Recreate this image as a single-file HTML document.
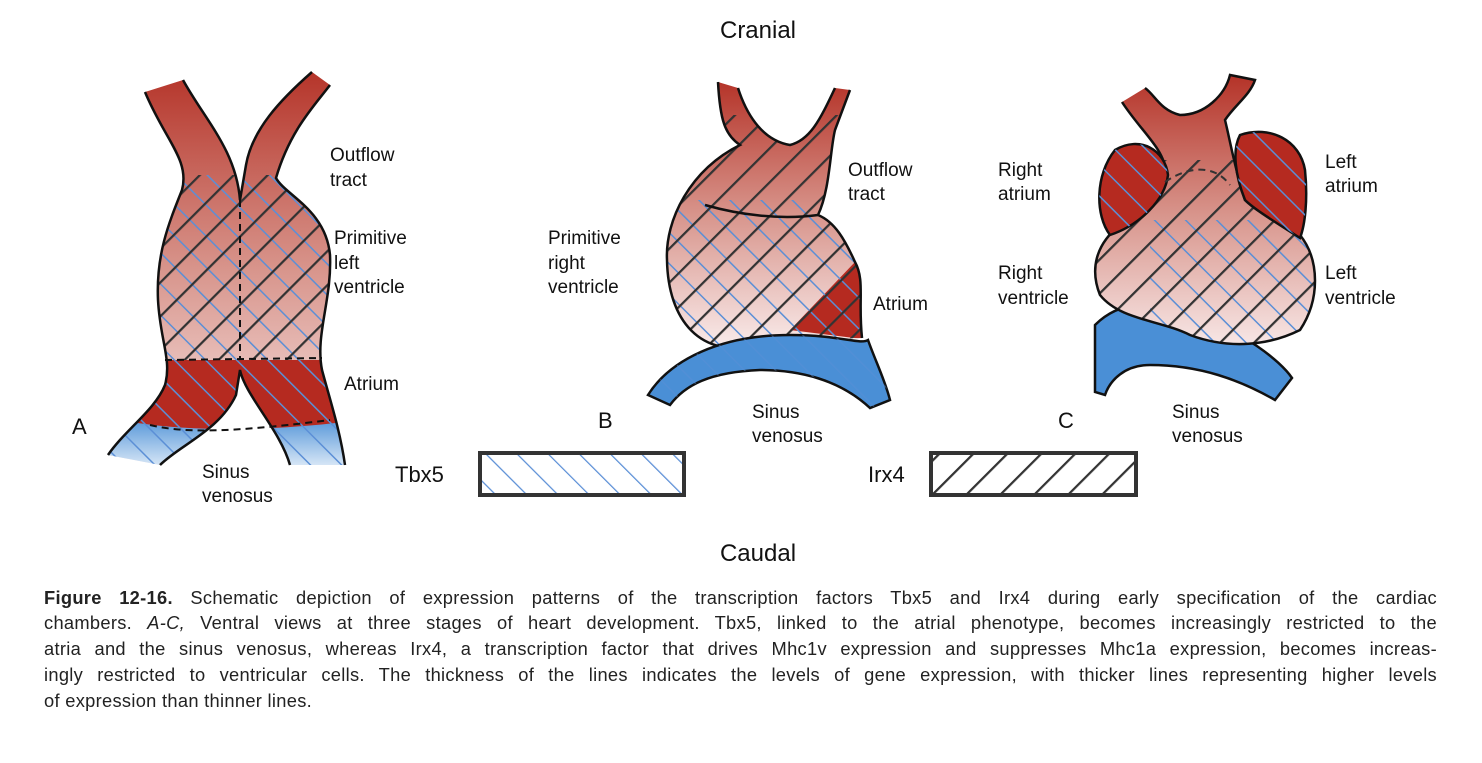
<!DOCTYPE html>
<html><head><meta charset="utf-8"><style>
body{margin:0;width:1482px;height:763px;background:#fff;position:relative;overflow:hidden;font-family:"Liberation Sans",sans-serif}
.cap{position:absolute;left:44px;width:1393px;font-size:18.3px;color:#222;text-align:justify;text-align-last:justify;white-space:nowrap;line-height:20px;letter-spacing:0.3px}
.cap.l{text-align-last:left}
svg{position:absolute;left:0;top:0}
</style></head><body>
<svg width="1482" height="580" viewBox="0 0 1482 580" font-family="Liberation Sans, sans-serif" font-size="19" fill="#111">
<defs>
<linearGradient id="gr" x1="0" y1="0" x2="0" y2="1"><stop offset="0" stop-color="#b32f24"/><stop offset=".5" stop-color="#d8958c"/><stop offset="1" stop-color="#fbf0f0"/></linearGradient>
<linearGradient id="gb" x1="0" y1="0" x2="0" y2="1"><stop offset="0" stop-color="#4a8fd6"/><stop offset="1" stop-color="#ffffff"/></linearGradient>
<pattern id="hb" width="22" height="22" patternUnits="userSpaceOnUse" patternTransform="rotate(-45)"><line x1="0" y1="0" x2="0" y2="22" stroke="#5b8fd6" stroke-width="3"/></pattern>
<pattern id="hk" width="24" height="24" patternUnits="userSpaceOnUse" patternTransform="rotate(45)"><line x1="0" y1="0" x2="0" y2="24" stroke="#333" stroke-width="4.5"/></pattern>
<pattern id="hbt" width="22" height="22" patternUnits="userSpaceOnUse" patternTransform="rotate(-45)"><line x1="0" y1="0" x2="0" y2="22" stroke="#5b8fd6" stroke-width="2.5"/></pattern>
<clipPath id="cA"><path d="M145,92 C165,140 190,160 182,190 C168,225 156,255 158,300 C160,340 172,360 165,385 C155,410 125,430 108,455 L160,465 C180,445 220,430 236,395 L240,370 C245,395 280,430 290,465 L345,465 C340,430 330,400 322,370 C315,335 332,300 330,255 C326,210 285,195 276,178 C290,130 315,105 330,85 L312,72 C280,100 252,130 246,165 L240,200 C236,150 205,120 183,80 Z"/></clipPath>
<clipPath id="cB"><path d="M718,82 C720,120 725,135 740,145 C690,170 665,220 667,260 C668,320 700,360 760,345 L805,340 L862,338 C858,300 865,280 855,262 C845,240 835,222 818,215 C830,190 830,150 835,130 L850,90 L835,88 C820,120 810,140 790,145 C760,140 745,110 738,88 Z"/></clipPath>
<clipPath id="cC"><path d="M1122,102 C1140,130 1165,150 1165,170 C1160,185 1140,195 1120,225 C1095,245 1090,270 1100,295 C1120,320 1160,320 1190,335 C1230,350 1270,345 1300,330 C1320,300 1320,260 1300,235 C1285,225 1260,215 1245,200 C1235,170 1230,140 1225,120 C1235,105 1250,95 1255,80 L1230,75 C1225,95 1205,115 1180,115 C1160,110 1155,95 1145,88 Z"/></clipPath>
</defs>
<text x="758" y="38" font-size="24" text-anchor="middle">Cranial</text>
<text x="758" y="561" font-size="24" text-anchor="middle">Caudal</text>

<!-- A -->
<g clip-path="url(#cA)">
<rect x="100" y="60" width="260" height="420" fill="url(#gr)"/>
<rect x="100" y="360" width="260" height="70" fill="#b52a20"/>
<path d="M100,415 C150,430 250,435 360,420 L360,480 L100,480Z" fill="url(#gb)"/>
<rect x="100" y="175" width="260" height="300" fill="url(#hb)"/>
<rect x="100" y="175" width="260" height="185" fill="url(#hk)"/>
</g>
<path d="M145,92 C165,140 190,160 182,190 C168,225 156,255 158,300 C160,340 172,360 165,385 C155,410 125,430 108,455 M160,465 C180,445 220,430 236,395 L240,370 C245,395 280,430 290,465 M345,465 C340,430 330,400 322,370 C315,335 332,300 330,255 C326,210 285,195 276,178 C290,130 315,105 330,85 M312,72 C280,100 252,130 246,165 L240,200 C236,150 205,120 183,80" fill="none" stroke="#111" stroke-width="2.5"/>
<path d="M240,200 L240,360 M165,360 L322,358 M150,425 C190,435 250,430 330,420" fill="none" stroke="#111" stroke-width="2" stroke-dasharray="7,5"/>
<text x="330" y="161">Outflow</text><text x="330" y="186">tract</text>
<text x="334" y="244">Primitive</text><text x="334" y="269">left</text><text x="334" y="293">ventricle</text>
<text x="344" y="390">Atrium</text>
<text x="202" y="478">Sinus</text><text x="202" y="502">venosus</text>
<text x="72" y="434" font-size="22">A</text>

<!-- B -->
<g clip-path="url(#cB)">
<rect x="660" y="75" width="210" height="280" fill="url(#gr)"/>
<path d="M790,330 L855,262 L870,270 L870,340 Z" fill="#b52a20"/>
<rect x="660" y="200" width="210" height="150" fill="url(#hb)"/>
<rect x="660" y="115" width="210" height="240" fill="url(#hk)"/>
</g>
<path d="M718,82 C720,120 725,135 740,145 C690,170 665,220 667,260 C668,320 700,360 760,345 M862,338 C858,300 865,280 855,262 C845,240 835,222 818,215 C830,190 830,150 835,130 L850,90 M835,88 C820,120 810,140 790,145 C760,140 745,110 738,88 M705,205 C740,215 780,220 818,215" fill="none" stroke="#111" stroke-width="2.5"/>
<path d="M648,395 C670,360 720,335 790,335 C840,335 860,345 868,340 C875,360 885,380 890,400 L870,408 C840,380 800,370 760,370 C710,372 685,385 670,405 Z" fill="#4a8fd6" stroke="#111" stroke-width="2.5"/>
<path d="M648,395 C670,360 720,335 790,335 C840,335 860,345 868,340 C875,360 885,380 890,400 L870,408 C840,380 800,370 760,370 C710,372 685,385 670,405 Z" fill="url(#hbt)" opacity=".5"/>
<text x="848" y="176">Outflow</text><text x="848" y="200">tract</text>
<text x="548" y="244">Primitive</text><text x="548" y="269">right</text><text x="548" y="293">ventricle</text>
<text x="873" y="310">Atrium</text>
<text x="752" y="418">Sinus</text><text x="752" y="442">venosus</text>
<text x="598" y="428" font-size="22">B</text>

<!-- C -->
<path d="M1095,325 C1120,300 1150,300 1200,318 C1240,330 1280,360 1292,378 L1275,400 C1240,380 1200,365 1150,365 C1125,365 1110,380 1105,395 L1095,392 Z" fill="#4a8fd6" stroke="#111" stroke-width="2.5"/>
<g clip-path="url(#cC)">
<rect x="1085" y="70" width="240" height="290" fill="url(#gr)"/>
<rect x="1150" y="220" width="170" height="140" fill="url(#hb)"/>
<rect x="1085" y="160" width="240" height="200" fill="url(#hk)"/>
</g>
<path d="M1122,102 C1140,130 1165,150 1165,170 C1160,185 1140,195 1120,225 C1095,245 1090,270 1100,295 C1120,320 1160,320 1190,335 C1230,350 1270,345 1300,330 C1320,300 1320,260 1300,235 C1285,225 1260,215 1245,200 C1235,170 1230,140 1225,120 C1235,105 1250,95 1255,80 L1230,75 C1225,95 1205,115 1180,115 C1160,110 1155,95 1145,88" fill="none" stroke="#111" stroke-width="2.5"/>
<path d="M1115,150 C1140,135 1165,150 1168,175 C1165,200 1140,225 1110,235 C1095,215 1095,175 1115,150 Z" fill="#b52a20" stroke="#111" stroke-width="2.5"/>
<path d="M1115,150 C1140,135 1165,150 1168,175 C1165,200 1140,225 1110,235 C1095,215 1095,175 1115,150 Z" fill="url(#hb)"/>
<path d="M1240,135 C1270,125 1300,140 1305,170 C1308,200 1305,225 1300,238 C1280,225 1255,210 1245,200 C1235,175 1232,150 1240,135 Z" fill="#b52a20" stroke="#111" stroke-width="2.5"/>
<path d="M1240,135 C1270,125 1300,140 1305,170 C1308,200 1305,225 1300,238 C1280,225 1255,210 1245,200 C1235,175 1232,150 1240,135 Z" fill="url(#hb)"/>
<path d="M1165,182 C1190,165 1215,165 1230,185" fill="none" stroke="#333" stroke-width="2" stroke-dasharray="7,5"/>
<text x="998" y="176">Right</text><text x="998" y="200">atrium</text>
<text x="998" y="279">Right</text><text x="998" y="304">ventricle</text>
<text x="1325" y="168">Left</text><text x="1325" y="192">atrium</text>
<text x="1325" y="279">Left</text><text x="1325" y="304">ventricle</text>
<text x="1172" y="418">Sinus</text><text x="1172" y="442">venosus</text>
<text x="1058" y="428" font-size="22">C</text>

<!-- legend -->
<text x="395" y="482" font-size="22">Tbx5</text>
<rect x="480" y="453" width="204" height="42" fill="url(#hbt)" stroke="#333" stroke-width="4"/>
<text x="868" y="482" font-size="22">Irx4</text>
<rect x="931" y="453" width="205" height="42" fill="url(#hk)" stroke="#333" stroke-width="4"/>
</svg>
<div class="cap" style="top:588px"><b>Figure 12-16.</b> Schematic depiction of expression patterns of the transcription factors Tbx5 and Irx4 during early specification of the cardiac</div>
<div class="cap" style="top:613px">chambers. <i>A-C,</i> Ventral views at three stages of heart development. Tbx5, linked to the atrial phenotype, becomes increasingly restricted to the</div>
<div class="cap" style="top:639px">atria and the sinus venosus, whereas Irx4, a transcription factor that drives Mhc1v expression and suppresses Mhc1a expression, becomes increas-</div>
<div class="cap" style="top:665px">ingly restricted to ventricular cells. The thickness of the lines indicates the levels of gene expression, with thicker lines representing higher levels</div>
<div class="cap l" style="top:691px">of expression than thinner lines.</div>
</body></html>
